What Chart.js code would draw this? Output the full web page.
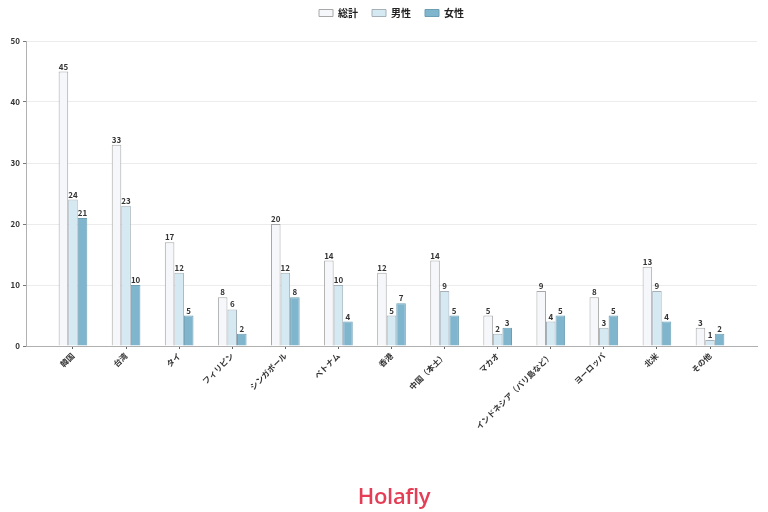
<!DOCTYPE html>
<html>
<head>
<meta charset="utf-8">
<script src="https://cdn.jsdelivr.net/npm/chart.js@4"></script>
<style>
  html,body{margin:0;padding:0;background:#fff;}
  #wrap{position:relative;width:768px;height:512px;}
  #logo{position:absolute;left:10px;width:768px;top:480px;text-align:center;font-family:"Open Sans","Noto Sans",sans-serif;font-weight:600;font-size:22px;color:#e43d55;letter-spacing:-0.3px;}
</style>
</head>
<body>
<div id="wrap">
<canvas id="c" width="768" height="512"></canvas>
<div id="logo">Holafly</div>
</div>
<script>
const categories = ['韓国','台湾','タイ','フィリピン','シンガポール','ベトナム','香港','中国（本土）','マカオ','インドネシア（バリ島など）','ヨーロッパ','北米','その他'];
const seriesNames = ['総計','男性','女性'];
const totalValues = [45,33,17,8,20,14,12,14,5,9,8,13,3];
const maleValues = [24,23,12,6,12,10,5,9,2,4,3,9,1];
const femaleValues = [21,10,5,2,8,4,7,5,3,5,5,4,2];
const yTicks = [0,10,20,30,40,50];

const FONT = '"Noto Sans CJK JP","Noto Sans",sans-serif';
const toPts = arr => arr.map((v,i)=>({x:i,y:v}));

const labelPlugin = {
  id:'barLabels',
  afterDatasetsDraw(chart){
    const ctx = chart.ctx;
    ctx.save();
    ctx.font = 'bold 8px ' + FONT;
    ctx.fillStyle = '#333';
    ctx.textAlign = 'center';
    ctx.textBaseline = 'bottom';
    chart.data.datasets.forEach((ds,di)=>{
      chart.getDatasetMeta(di).data.forEach((bar,i)=>{
        ctx.fillText(String(ds.data[i].y), bar.x, bar.y - 1);
      });
    });
    ctx.restore();
  }
};

const legendHeightPlugin = {
  id:'legendHeight',
  beforeLayout(chart){
    const lg = chart.legend;
    if (lg && !lg._patched) {
      const f = lg.fit;
      lg.fit = function(){ f.call(this); this.height = 41; };
      lg._patched = true;
    }
  },
  afterLayout(chart){
    const lg = chart.legend;
    if (lg) {
      lg.top -= 6; lg.bottom -= 6;
      lg.left += 13; lg.right += 13;
      if (lg.adjustHitBoxes) lg.adjustHitBoxes();
    }
  }
};

new Chart(document.getElementById('c'), {
  type:'bar',
  data:{
    datasets:[
      {label:seriesNames[0], data:toPts(totalValues), backgroundColor:'#f5f7fa', borderColor:'#a8a8a8', borderWidth:1},
      {label:seriesNames[1], data:toPts(maleValues), backgroundColor:'#d5e9f3', borderColor:'#a6b0b8', borderWidth:1},
      {label:seriesNames[2], data:toPts(femaleValues), backgroundColor:'#80b6cd', borderColor:'#6d9fb4', borderWidth:1}
    ]
  },
  options:{
    responsive:false,
    animation:false,
    layout:{padding:{left:0,right:11,top:0,bottom:0}},
    datasets:{bar:{categoryPercentage:0.54,barPercentage:1}},
    plugins:{
      tooltip:{enabled:false},
      legend:{
        position:'top',
        labels:{font:{family:FONT,size:10,weight:'bold'},color:'#222',boxWidth:14,boxHeight:7,padding:14}
      }
    },
    scales:{
      x:{
        type:'linear',
        offset:false,
        min:-0.885, max:12.885,
        afterBuildTicks(scale){ scale.ticks = categories.map((_,i)=>({value:i})); },
        afterFit(scale){ scale.height = 166; },
        ticks:{
          autoSkip:false, minRotation:45, maxRotation:45, padding:2,
          font:{family:FONT,size:8,weight:'bold'}, color:'#333',
          callback:(v)=>categories[v]
        },
        grid:{offset:false, drawOnChartArea:false, drawTicks:true, tickLength:3, tickColor:'#666'},
        border:{color:'#b0b0b0', width:1}
      },
      y:{
        min:0, max:50,
        afterBuildTicks(scale){ scale.ticks = yTicks.map(v=>({value:v})); },
        afterFit(scale){ scale.width = 26; },
        ticks:{font:{family:FONT,size:8,weight:'bold'}, color:'#333', padding:3},
        grid:{color:'#ececec', tickColor:'#777', tickLength:3},
        border:{color:'#b0b0b0', width:1}
      }
    }
  },
  plugins:[legendHeightPlugin, labelPlugin]
});
</script>
</body>
</html>
